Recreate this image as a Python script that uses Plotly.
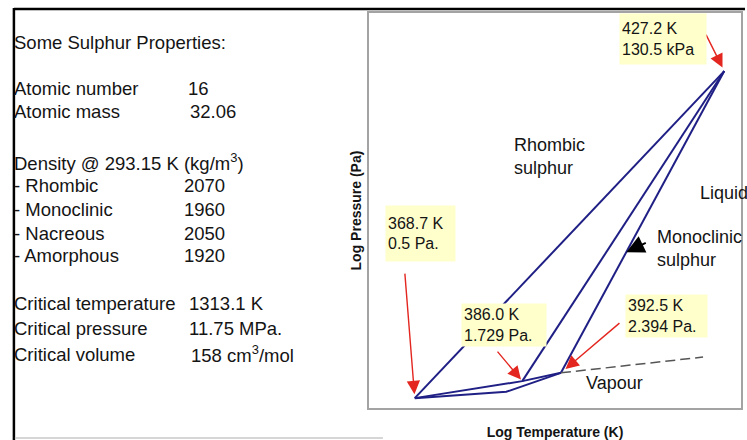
import plotly.graph_objects as go

# ---------------- left panel: property table ----------------
title_text = "Some Sulphur Properties:"
basic_labels = ["Atomic number", "Atomic mass"]
basic_values = ["16", "32.06"]
density_header = "Density @ 293.15 K (kg/m<sup>3</sup>)"
density_forms = ["Rhombic", "Monoclinic", "Nacreous", "Amorphous"]
density_values = [2070, 1960, 2050, 1920]
critical_labels = ["Critical temperature", "Critical pressure", "Critical volume"]
critical_values = ["1313.1 K", "11.75 MPa.", "158 cm<sup>3</sup>/mol"]

# ---------------- phase diagram (schematic log T / log P units) ----------------
point_labels = ["368.7 K<br>0.5 Pa.", "386.0 K<br>1.729 Pa.",
                "392.5 K<br>2.394 Pa.", "427.2 K<br>130.5 kPa"]
point_logT = [12.3, 41.2, 51.6, 95.5]
point_logP = [2.5, 6.8, 8.9, 85.3]
bend_logT, bend_logP = 36.9, 4.1          # bend of monoclinic sublimation curve
vap_end_logT, vap_end_logP = 89.8, 12.9   # end of dashed vapour-pressure curve
region_labels = ["Rhombic<br>sulphur", "Liquid", "Monoclinic<br>sulphur", "Vapour"]
region_logT = [38.5, 88.5, 77.0, 57.8]
region_logP = [63.7, 54.4, 40.3, 6.3]

FONT = "Liberation Sans, Arial, sans-serif"
LINE = "#1f1f85"
TXT = "#141414"

# plot-area geometry (pixels) for placing the side text
PL, PT, PW, PH = 369, 13, 374, 395
W, H = 747, 440


def px_x(px):
    return (px - PL) / PW


def px_y(py):
    return (PT + PH - py) / PH


fig = go.Figure()

A, B, C, D = range(4)
# transition / melting curves meeting at the upper triple point
for i in (A, B, C):
    fig.add_trace(go.Scatter(x=[point_logT[i], point_logT[D]],
                             y=[point_logP[i], point_logP[D]],
                             mode="lines", line=dict(color=LINE, width=2),
                             hoverinfo="skip"))
# metastable rhombic sublimation + liquid vapour curve
fig.add_trace(go.Scatter(x=[point_logT[A], point_logT[B], point_logT[C]],
                         y=[point_logP[A], point_logP[B], point_logP[C]],
                         mode="lines", line=dict(color=LINE, width=2), hoverinfo="skip"))
# monoclinic sublimation curve
fig.add_trace(go.Scatter(x=[point_logT[A], bend_logT, point_logT[C]],
                         y=[point_logP[A], bend_logP, point_logP[C]],
                         mode="lines", line=dict(color=LINE, width=2), hoverinfo="skip"))
# vapour pressure of liquid (dashed)
fig.add_trace(go.Scatter(x=[point_logT[C], vap_end_logT],
                         y=[point_logP[C], vap_end_logP],
                         mode="lines", line=dict(color="#555555", width=1.5, dash="10px,5px"),
                         hoverinfo="skip"))

ann = []
# red arrows to the special points (tail offsets in pixels)
arrow_offsets = [(-10, -126), (-26, -31), (60, -51), (-19, -38)]
arrow_standoff = [4, 2, 6, 4]
for i, (ox, oy) in enumerate(arrow_offsets):
    ann.append(dict(x=point_logT[i], y=point_logP[i], xref="x", yref="y",
                    text="", showarrow=True, ax=ox, ay=oy,
                    arrowhead=2, arrowsize=1.9, arrowwidth=1.4,
                    arrowcolor="#e3261f", standoff=arrow_standoff[i]))

# yellow label boxes
box_logT = [13.8, 36.4, 80.1, 78.9]
box_logP = [44.2, 21.0, 23.4, 93.4]
box_w = [65, 80, 77, 82]
box_h = [51, None, None, 46]
for i, lab in enumerate(point_labels):
    a = dict(x=box_logT[i], y=box_logP[i], xref="x", yref="y", text=lab,
             showarrow=False, bgcolor="#ffffcc", borderpad=2, align="left",
             width=box_w[i], xanchor="center", yanchor="middle",
             font=dict(family=FONT, size=16, color=TXT))
    if box_h[i]:
        a["height"] = box_h[i]
        a["valign"] = "middle"
    ann.append(a)

# region labels
for lab, x, y in zip(region_labels, region_logT, region_logP):
    ann.append(dict(x=x, y=y, xref="x", yref="y", text=lab, showarrow=False,
                    xanchor="left", yanchor="middle", align="left",
                    font=dict(family=FONT, size=18, color=TXT)))

# black arrow from "Monoclinic sulphur" to its melting curve
t = 0.40
tipT = point_logT[C] + t * (point_logT[D] - point_logT[C])
tipP = point_logP[C] + t * (point_logP[D] - point_logP[C])
ann.append(dict(x=tipT, y=tipP, xref="x", yref="y", text="", showarrow=True,
                ax=21, ay=-10, arrowhead=2, arrowsize=1.8, arrowwidth=2,
                arrowcolor="#000000", standoff=0))

# left panel text
def side(text, px, py, size=18.5):
    ann.append(dict(x=px_x(px), y=px_y(py), xref="paper", yref="paper",
                    text=text, showarrow=False, xanchor="left", yanchor="middle",
                    font=dict(family=FONT, size=size, color=TXT)))

side(title_text, 10, 43)
for lab, val, py, vx in zip(basic_labels, basic_values, [88, 111], [185, 187]):
    side(lab, 10, py)
    side(val, vx, py)
side(density_header, 10, 162)
for lab, val, py in zip(density_forms, density_values, [185, 209, 233, 256]):
    side("- " + lab, 10, py)
    side(str(val), 181, py)
for lab, val, py, vx in zip(critical_labels, critical_values, [303, 328, 354], [186, 186, 188]):
    side(lab, 10, py)
    side(val, vx, py)

# outer frame of the slide
shapes = [
    dict(type="line", xref="paper", yref="paper", x0=px_x(12), x1=px_x(747),
         y0=px_y(9), y1=px_y(9), line=dict(color="#000000", width=2.5)),
    dict(type="line", xref="paper", yref="paper", x0=px_x(12), x1=px_x(12),
         y0=px_y(8), y1=px_y(440), line=dict(color="#000000", width=2.5)),
    dict(type="line", xref="paper", yref="paper", x0=px_x(13), x1=px_x(383),
         y0=px_y(438), y1=px_y(438), line=dict(color="#c8c8c8", width=1.5)),
]

axis_common = dict(showgrid=False, zeroline=False, showticklabels=False, ticks="",
                   showline=True, mirror=True, linecolor="#a3a3a3", linewidth=2,
                   range=[0, 100], fixedrange=True)

fig.update_layout(
    width=W, height=H,
    margin=dict(l=PL, r=W - PL - PW, t=PT, b=H - PT - PH, pad=0),
    paper_bgcolor="white", plot_bgcolor="white",
    showlegend=False,
    annotations=ann, shapes=shapes,
    xaxis=dict(**axis_common,
               title=dict(text="Log Temperature (K)", standoff=18,
                          font=dict(family=FONT, size=14, color=TXT, weight="bold"))),
    yaxis=dict(**axis_common,
               title=dict(text="Log Pressure (Pa)", standoff=2,
                          font=dict(family=FONT, size=14, color=TXT, weight="bold"))),
)

fig.write_html("out.html")
